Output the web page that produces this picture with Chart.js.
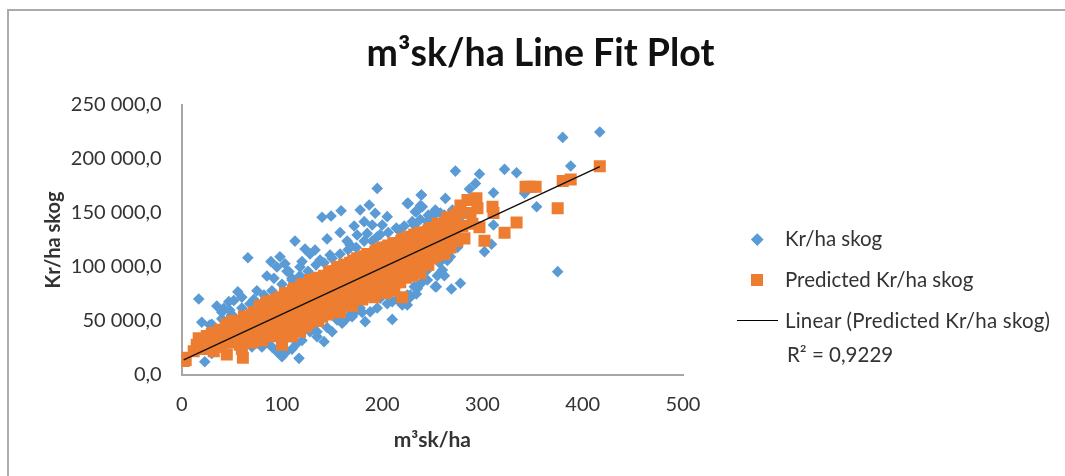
<!DOCTYPE html>
<html>
<head>
<meta charset="utf-8">
<script src="https://cdn.jsdelivr.net/npm/chart.js@4"></script>
<style>
  html, body { margin: 0; padding: 0; background: #fff; }
  #wrap { position: relative; width: 1065px; height: 476px; overflow: hidden; }
  #frame { position: absolute; left: 7px; top: 9px; width: 1060px; height: 480px; border: 2px solid #ababab; }
  #myChart { position: absolute; left: 0; top: 0; }
  .lg { position: absolute; font: 20.5px Lato, sans-serif; color: #333; white-space: nowrap; line-height: 20px; }
  .sw { position: absolute; }
</style>
</head>
<body>
<div id="wrap">
  <div id="frame"></div>
  <canvas id="myChart" width="1065" height="476"></canvas>
  <div class="sw" style="left:753px;top:235px;width:8.5px;height:8.5px;background:#5b9bd5;transform:rotate(45deg)"></div>
  <div class="lg" style="left:785px;top:228px">Kr/ha skog</div>
  <div class="sw" style="left:751px;top:274px;width:12px;height:12px;background:#ed7d31"></div>
  <div class="lg" style="left:785px;top:269px">Predicted Kr/ha skog</div>
  <div class="sw" style="left:737px;top:320px;width:41px;height:1px;background:#000"></div>
  <div class="lg" style="left:785px;top:310px;letter-spacing:0.2px">Linear (Predicted Kr/ha skog)</div>
  <div class="lg" style="left:787px;top:344px">R² = 0,9229</div>
</div>
<script>
const chartTitle = 'm³sk/ha Line Fit Plot';
const xTitle = 'm³sk/ha';
const yTitle = 'Kr/ha skog';
const yTickLabels = ['0,0', '50 000,0', '100 000,0', '150 000,0', '200 000,0', '250 000,0'];

// most of the blue cloud sits under the orange
const actualX = [17,23,20,28,35,42,47,56,52,68,66,113,89,98,103,107,85,92,110,120,123,133,140,149,159,195,178,187,193,205,182,190,200,175,185,195,168,148,138,225,239,240,234,232,217,253,245,
  100,100,95,117,110,115,78,85,130,135,142,128,150,155,163,172,183,188,210,210,225,222,232,234,245,253,198,178,168,
  417,380,388,322,334,273,297,293,287,311,342,354,239,226,238,263,233,253,270,232,311,309,302,268,375,257,260,254,269,278,235,228,220,
  30,40,48,60,75,80,95,105,118,128,145,158,165,172,212,218,228,240,262,280,248,258,30,38,
  40,50,60,72,82,90,100,110,118,126,134,142,150,158,166,174,182,190,198,206,214,222,230,238,246,254,262,270,
  70,80,90,105,120,135,145,160,170,180,195,205,215,225,235,245,255,265,275];
const actualY = [70400,12300,48800,46300,63900,61700,67900,77000,69000,66000,108600,124000,105000,109500,103000,95700,91600,89500,89500,105000,116600,115700,146000,147200,152100,172800,152800,157400,149700,146600,142000,138900,138900,129600,131100,128000,120300,111100,106500,158900,166600,155800,151200,138900,134200,151200,142000,
  17000,20000,21600,15400,24000,29300,30900,30900,43200,35500,30900,40000,40100,50900,50900,57100,49400,58600,51500,67900,64800,92000,81800,75000,97200,81800,71000,62000,56000,
  225000,220000,193500,190400,187300,188800,186100,177400,172200,168800,168200,155800,166600,158900,156800,163500,151200,152800,152800,138900,138900,121000,114200,109600,95700,104000,97200,81800,79600,84900,81800,74100,64800,
  47000,58000,60000,72000,78000,35000,100000,96000,100000,112000,126000,132000,124000,138000,82000,88000,72000,86000,92000,148000,146000,150000,20000,28000,
  52000,56000,62000,70000,74000,78000,84000,88000,92000,96000,102000,104000,108000,112000,116000,118000,124000,124000,130000,132000,136000,138000,142000,144000,148000,150000,148000,146000,
  26000,26000,26000,22000,32000,40000,44000,48000,54000,58000,62000,66000,70000,74000,80000,88000,92000,106000,118000];

const predictedX = [2,2,4,12,15,17,18,22,25,25,28,30,32,35,38,38,42,45,45,46,50,50,54,56,58,61,60,62,65,68,70,72,75,78,80,80,84,85,88,90,90,94,96,98,100,100,102,105,106,108,110,112,114,116,118,120,122,124,126,128,130,132,135,136,138,140,142,145,146,148,150,152,155,156,158,160,162,164,166,168,170,172,175,176,178,180,182,184,186,188,190,192,195,196,198,200,202,204,206,208,210,212,214,216,218,220,222,224,226,228,230,232,234,236,238,240,242,244,246,248,250,252,254,256,258,260,262,264,266,268,270,272,275,276,278,280,282,285,288,290,294,295,
  297,302,310,311,322,334,343,348,353,375,380,388,417,220,
  55,64,72,82,92,100,108,116,124,132,140,148,156,164,172,180,188,196,204,212,220,228,236,244,252,
  60,68,76,86,96,104,112,120,128,136,144,152,160,168,176,184,192,200,208,216,224,232,240,248,256,264,
  20,26,32,44,52,58,64,70,76,82,88,93,99,104,110,115,121,127,133,139,144,150,155,161,167,173,179,185,191,197,203,209,215,221,227,233,239,245,251,257,263,269,
  34,48,56,66,74,80,86,92,98,103,109,114,119,125,131,137,143,149,154,159,165,171,177,183,189,195,201,207,213,219,225,231,237,243,249,255,261,267,
  78,86,94,103,111,119,125,133,139,147,153,159,165,171,179,185,193,199,205,211,219,225,231,237,243,249,255,261,265,273,
  82,88,94,98,106,112,120,126,134,140,146,152,158,164,170,176,182,190,198,206,214,222,230,238,246,254,262,268,
  63,73,83,93,103,113,123,133,143,153,163,173,183,193,203,213,223,233,243,253,263,
  57,67,77,87,97,107,117,127,137,147,157,167,177,187,197,207,217,227,237,247,257];
const predictedY = [13000,16000,14000,22000,28000,34000,24000,30000,36000,24000,26000,38000,22000,33000,42000,27000,30000,19000,47000,36000,50000,30000,37000,47000,28000,16000,24000,54000,36000,44000,30000,58000,40000,48000,60000,32000,66000,40000,50000,68000,36000,58000,44000,72000,28000,36000,52000,74000,42000,62000,36000,80000,50000,70000,40000,84000,58000,45000,76000,88000,52000,64000,90000,50000,78000,58000,92000,70000,56000,96000,80000,60000,100000,72000,58000,88000,102000,66000,80000,104000,64000,92000,108000,72000,86000,70000,110000,96000,76000,112000,88000,72000,116000,100000,80000,118000,92000,76000,120000,104000,84000,78000,122000,98000,86000,126000,110000,90000,128000,100000,94000,130000,114000,98000,132000,106000,124000,102000,134000,118000,108000,136000,124000,112000,140000,130000,116000,142000,126000,118000,144000,134000,124000,150000,157000,138000,126500,162000,150000,140000,163600,154300,
  136700,124400,155800,150000,131800,141300,174400,174400,174400,154300,179600,181000,193200,71900,
  38000,42000,48000,50000,56000,60000,62000,68000,66000,72000,74000,80000,82000,84000,88000,94000,96000,100000,104000,106000,112000,114000,118000,120000,122000,
  46000,52000,56000,62000,66000,68000,72000,74000,80000,82000,86000,90000,92000,94000,98000,102000,106000,108000,112000,116000,118000,122000,126000,128000,132000,136000,
  33000,36000,39000,44000,48000,50000,54000,56000,58000,62000,64000,66000,68000,70000,72000,75000,76000,80000,82000,86000,88000,90000,92000,94000,98000,100000,102000,106000,108000,110000,112000,116000,118000,120000,122000,124000,126000,128000,130000,132000,134000,136000,
  26000,32000,36000,40000,46000,46000,48000,50000,54000,46000,50000,48000,52000,56000,58000,60000,62000,66000,68000,70000,72000,74000,76000,80000,82000,84000,86000,90000,92000,96000,98000,100000,102000,108000,112000,116000,120000,122000,
  64000,68000,70000,76000,78000,82000,84000,86000,88000,94000,96000,100000,102000,106000,108000,112000,114000,116000,118000,122000,124000,126000,128000,130000,132000,136000,140000,138000,146000,148000,
  36000,38000,40000,44000,36000,42000,46000,48000,52000,54000,60000,64000,66000,70000,70000,74000,74000,76000,78000,84000,86000,92000,92000,94000,102000,110000,112000,124000,
  45000,49000,54000,58000,62000,66000,71000,75000,80000,84000,88000,93000,97000,101000,106000,110000,114000,118000,123000,127000,131000,
  32000,36000,42000,45000,50000,54000,59000,63000,67000,71000,76000,80000,84000,89000,93000,97000,102000,106000,111000,114000,118000];

const trendX = [2, 417];
const trendY = [14000, 193000];

function toPoints(xs, ys) {
  return xs.map((x, i) => ({ x: x, y: ys[i] }));
}

Chart.defaults.font.family = 'Lato, sans-serif';
Chart.defaults.color = '#333';

// title sits centred over plot + legend, not only over the plot
const moveTitle = {
  id: 'moveTitle',
  afterLayout(chart) {
    chart.titleBlock.left = 0;
    chart.titleBlock.right = 1081;
  }
};

var ctx = document.getElementById('myChart');
var myChart = new Chart(ctx, {
  type: 'scatter',
  plugins: [moveTitle],
  data: {
    datasets: [
      { label: 'Linear (Predicted Kr/ha skog)', type: 'line', data: toPoints(trendX, trendY), borderColor: '#111', borderWidth: 1.5, pointRadius: 0, order: 0 },
      { label: 'Predicted Kr/ha skog', data: toPoints(predictedX, predictedY), pointStyle: 'rect', pointRadius: 8.5, backgroundColor: '#ed7d31', borderWidth: 0, order: 1 },
      { label: 'Kr/ha skog', data: toPoints(actualX, actualY), pointStyle: 'rectRot', pointRadius: 5.8, backgroundColor: '#5b9bd5', borderWidth: 0, order: 2 }
    ]
  },
  options: {
    responsive: false,
    animation: false,
    layout: { padding: { left: 38, right: 382, top: 31, bottom: 19 } },
    plugins: {
      legend: { display: false },
      tooltip: { enabled: false },
      title: { display: true, text: chartTitle, color: '#111', font: { size: 37.5, weight: 'bold' }, padding: { top: 0, bottom: 29 } }
    },
    scales: {
      x: {
        min: 0, max: 500,
        afterFit(scale) { scale.height = 82; },
        ticks: { stepSize: 100, font: { size: 20 }, color: '#333', maxRotation: 0, padding: 12 },
        grid: { display: false, tickLength: 6, tickColor: '#a6a6a6' },
        border: { color: '#a6a6a6', width: 2 },
        title: { display: true, text: xTitle, color: '#333', font: { size: 21, weight: 'bold' } }
      },
      y: {
        min: 0, max: 250000,
        afterFit(scale) { scale.width = 143.7; },
        ticks: { stepSize: 50000, font: { size: 20 }, color: '#333', padding: 14, callback: (v, i) => yTickLabels[i] },
        grid: { display: false, tickLength: 6, tickColor: '#a6a6a6' },
        border: { color: '#a6a6a6', width: 2 },
        title: { display: true, text: yTitle, color: '#333', font: { size: 20, weight: 'bold' } }
      }
    }
  }
});
</script>
</body>
</html>
